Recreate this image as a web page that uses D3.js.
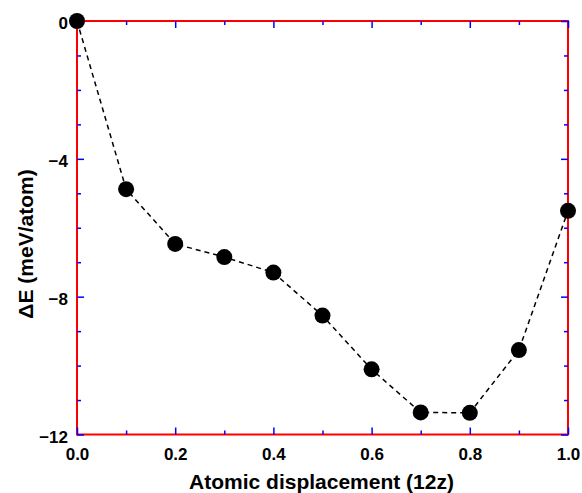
<!DOCTYPE html>
<html><head><meta charset="utf-8">
<script src="https://cdn.jsdelivr.net/npm/d3@7"></script>
</head>
<body style="margin:0">
<script>
const displacement = [0.0, 0.1, 0.2, 0.3, 0.4, 0.5, 0.6, 0.7, 0.8, 0.9, 1.0];
const deltaE = [0, -4.88, -6.47, -6.85, -7.30, -8.55, -10.11, -11.36, -11.37, -9.55, -5.51];
const xMajorTicks = [0, 0.2, 0.4, 0.6, 0.8, 1.0];
const xMinorTicks = [0.1, 0.3, 0.5, 0.7, 0.9];
const yMajorTicks = [0, -4, -8, -12];
const yMinorTicks = [-1, -2, -3, -5, -6, -7, -9, -10, -11];
const xTitle = "Atomic displacement (12z)";
const yTitle = "\u0394E (meV/atom)";

const W = 582, H = 493;
const mL = 77, mR = 568, mT = 21, mB = 434.5;
const FONT = "'Liberation Sans', Arial, Helvetica, sans-serif";
const svg = d3.select("body").append("svg").attr("width", W).attr("height", H);

const x = d3.scaleLinear().domain([0, 1]).range([mL, mR]);
const y = d3.scaleLinear().domain([-12, 0]).range([mB, mT]);

const fmtX = d3.format(".1f");
const fmtY = v => v < 0 ? "\u2212" + Math.abs(v) : String(v);

svg.append("rect").attr("x", mL).attr("y", mT).attr("width", mR - mL).attr("height", mB - mT)
  .attr("fill", "none").attr("stroke", "red").attr("stroke-width", 2);

function addAxis(axis, tx, ty) {
  const g = svg.append("g").attr("transform", `translate(${tx},${ty})`).call(axis);
  g.select(".domain").remove();
  g.selectAll(".tick line").attr("stroke", "blue").attr("stroke-width", 1.5);
  g.selectAll(".tick text").attr("fill", "#000").attr("font-size", 17)
    .attr("font-family", FONT).attr("font-weight", "bold");
  return g;
}

addAxis(d3.axisBottom(x).tickValues(xMinorTicks).tickFormat("").tickSizeInner(-4).tickSizeOuter(0), 0, mB);
addAxis(d3.axisBottom(x).tickValues(xMajorTicks).tickFormat(fmtX).tickSizeInner(-7).tickSizeOuter(0).tickPadding(13), 0, mB);
addAxis(d3.axisTop(x).tickValues(xMinorTicks).tickFormat("").tickSizeInner(-4).tickSizeOuter(0), 0, mT);
addAxis(d3.axisTop(x).tickValues(xMajorTicks).tickFormat("").tickSizeInner(-7).tickSizeOuter(0), 0, mT);
addAxis(d3.axisLeft(y).tickValues(yMinorTicks).tickFormat("").tickSizeInner(-4).tickSizeOuter(0), mL, 0);
addAxis(d3.axisLeft(y).tickValues(yMajorTicks).tickFormat(fmtY).tickSizeInner(-7).tickSizeOuter(0).tickPadding(9), mL, 0)
  .selectAll(".tick text").attr("dy", "0.45em");
addAxis(d3.axisRight(y).tickValues(yMinorTicks).tickFormat("").tickSizeInner(-4).tickSizeOuter(0), mR, 0);
addAxis(d3.axisRight(y).tickValues(yMajorTicks).tickFormat("").tickSizeInner(-7).tickSizeOuter(0), mR, 0);

const pts = displacement.map((d, i) => [d, deltaE[i]]);
svg.append("path").datum(pts)
  .attr("d", d3.line().x(d => x(d[0])).y(d => y(d[1])))
  .attr("fill", "none").attr("stroke", "#000").attr("stroke-width", 1.5).attr("stroke-dasharray", "5,4");

svg.append("g").selectAll("circle").data(pts).join("circle")
  .attr("cx", d => x(d[0])).attr("cy", d => y(d[1])).attr("r", 8).attr("fill", "#000");

svg.append("text").attr("x", (mL + mR) / 2 - 1).attr("y", 489).attr("text-anchor", "middle")
  .attr("font-family", FONT).attr("font-weight", "bold").attr("font-size", 21).attr("fill", "#000")
  .text(xTitle);
svg.append("text").attr("transform", `translate(33,244) rotate(-90)`).attr("text-anchor", "middle")
  .attr("font-family", FONT).attr("font-weight", "bold").attr("font-size", 21).attr("fill", "#000")
  .text(yTitle);
</script>
</body></html>
